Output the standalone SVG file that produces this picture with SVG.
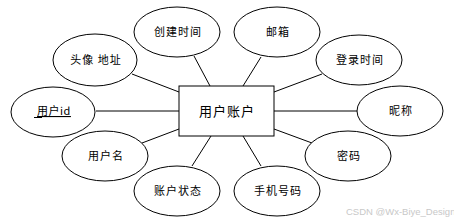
<svg xmlns="http://www.w3.org/2000/svg" width="454" height="223" viewBox="0 0 454 223">
<style>
.e{fill:#fff;stroke:#000;stroke-width:1}
.t{font-family:"Noto Sans CJK SC","Liberation Sans",sans-serif;font-size:11px;fill:#000;text-anchor:middle;letter-spacing:1px}
.c line{stroke:#000;stroke-width:1}
</style>
<rect width="454" height="223" fill="#fff"/>
<g class="c" id="connectors">
<line x1="132" y1="74" x2="179" y2="92"/>
<line x1="194" y1="56" x2="210" y2="86"/>
<line x1="261" y1="57" x2="243" y2="86"/>
<line x1="322" y1="74" x2="274" y2="92"/>
<line x1="96" y1="111" x2="179" y2="111"/>
<line x1="274" y1="111" x2="358" y2="111"/>
<line x1="142" y1="143" x2="179" y2="129"/>
<line x1="192" y1="166" x2="211" y2="136"/>
<line x1="274" y1="129" x2="312" y2="143"/>
<line x1="243" y1="136" x2="261" y2="166"/>
</g>
<g id="account">
<rect x="179" y="86" width="95" height="50" fill="#fff" stroke="#000"/>
<text class="t" x="227" y="116" style="font-size:13px">用户账户</text>
</g>
<g id="create-time"><ellipse class="e" cx="177" cy="32" rx="43" ry="25"/><text class="t" x="178" y="36">创建时间</text></g>
<g id="avatar"><ellipse class="e" cx="95" cy="60" rx="42" ry="26"/><text class="t" x="96" y="64">头像 地址</text></g>
<g id="user-id"><ellipse class="e" cx="53" cy="112" rx="42" ry="25"/><text class="t" x="54" y="115" style="text-decoration:underline;letter-spacing:0.5px"> 用户id</text><line x1="34" y1="117.5" x2="42" y2="117.5" stroke="#000"/></g>
<g id="email"><ellipse class="e" cx="277" cy="32" rx="43" ry="25"/><text class="t" x="278" y="36">邮箱</text></g>
<g id="login-time"><ellipse class="e" cx="359" cy="60" rx="43" ry="25"/><text class="t" x="360" y="64">登录时间</text></g>
<g id="nickname"><ellipse class="e" cx="400" cy="111" rx="43" ry="25"/><text class="t" x="401" y="115">昵称</text></g>
<g id="username"><ellipse class="e" cx="105" cy="156" rx="43" ry="25"/><text class="t" x="106" y="160">用户名</text></g>
<g id="status"><ellipse class="e" cx="177" cy="191" rx="43" ry="25"/><text class="t" x="178" y="195">账户状态</text></g>
<g id="password"><ellipse class="e" cx="348" cy="156" rx="43" ry="25"/><text class="t" x="349" y="160">密码</text></g>
<g id="phone"><ellipse class="e" cx="277" cy="191" rx="43" ry="25"/><text class="t" x="278" y="195">手机号码</text></g>
<text x="346" y="215" font-family="Liberation Sans,sans-serif" font-size="9.5" fill="#c8c8c8">CSDN @Wx-Biye_Design</text>
</svg>
